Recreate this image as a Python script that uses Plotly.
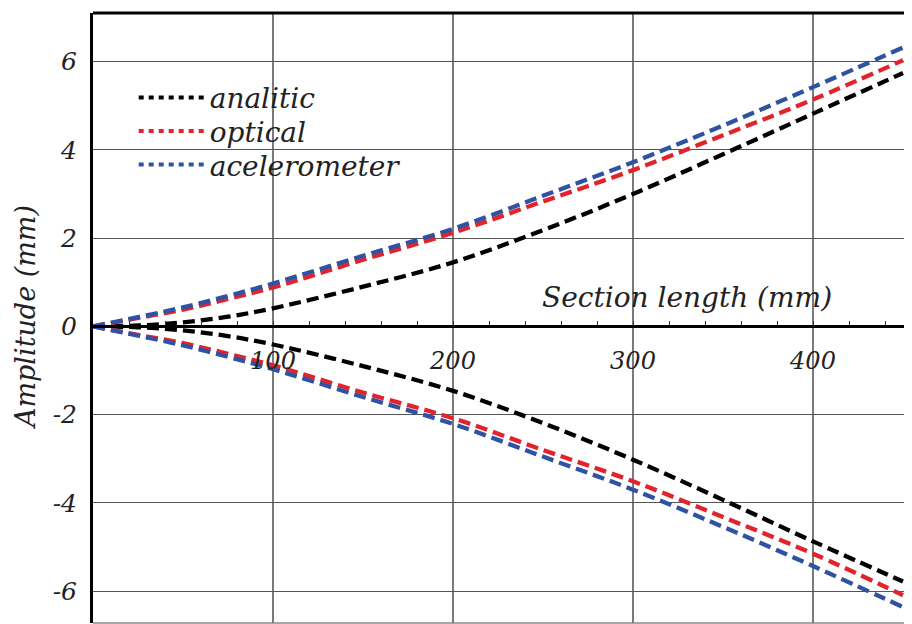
import plotly.graph_objects as go

# ---- data ----
section_mm = [0, 25, 50, 75, 100, 150, 200, 250, 300, 350, 400, 450]

analitic_upper = [0, 0.02, 0.09, 0.22, 0.41, 0.90, 1.45, 2.18, 3.00, 3.90, 4.82, 5.74]
optical_upper = [0, 0.19, 0.38, 0.62, 0.88, 1.51, 2.12, 2.83, 3.54, 4.33, 5.14, 6.03]
accel_upper = [0, 0.21, 0.43, 0.69, 0.97, 1.60, 2.21, 2.96, 3.72, 4.55, 5.42, 6.32]

analitic_lower = [0, -0.02, -0.09, -0.22, -0.41, -0.90, -1.46, -2.19, -3.02, -3.93, -4.87, -5.78]
optical_lower = [0, -0.19, -0.38, -0.62, -0.88, -1.50, -2.08, -2.80, -3.51, -4.32, -5.15, -6.09]
accel_lower = [0, -0.21, -0.43, -0.69, -0.97, -1.60, -2.21, -2.95, -3.70, -4.54, -5.43, -6.36]

series_names = ["analitic", "optical", "acelerometer"]
series_colors = ["#000000", "#e3232b", "#2f52a3"]

x_tick_vals = [100, 200, 300, 400]
x_tick_text = ["100", "200", "300", "400"]
y_tick_vals = [-6, -4, -2, 0, 2, 4, 6]
y_tick_text = ["-6", "-4", "-2", "0", "2", "4", "6"]

X_RANGE = [0, 455]
Y_RANGE = [-6.72, 7.10]

FONT = "DejaVu Serif"
TXT = "#222222"

fig = go.Figure()

uppers = [analitic_upper, optical_upper, accel_upper]
lowers = [analitic_lower, optical_lower, accel_lower]
legend_ids = ["legend", "legend2", "legend3"]
legend_y = [0.861, 0.806, 0.751]

for name, color, up, lo, lid in zip(series_names, series_colors, uppers, lowers, legend_ids):
    for ys in (up, lo):
        fig.add_trace(go.Scatter(
            x=section_mm, y=ys, mode="lines", name=name,
            line=dict(color=color, width=4.3, dash="12px,6px", shape="spline"),
            showlegend=False, hoverinfo="skip",
        ))
    # legend entry (dotted sample as in the reference)
    fig.add_trace(go.Scatter(
        x=[None], y=[None], mode="lines", name=name,
        line=dict(color=color, width=4, dash="5px,5px"),
        showlegend=True, legend=lid,
    ))

zero_pos = (0 - Y_RANGE[0]) / (Y_RANGE[1] - Y_RANGE[0])

legend_common = dict(
    x=0.0497, xanchor="left", yanchor="middle",
    bgcolor="rgba(0,0,0,0)", borderwidth=0,
    font=dict(family=FONT, size=28, color=TXT, style="italic"),
    itemwidth=66,
)

fig.update_layout(
    width=904, height=616,
    margin=dict(l=85, r=0, t=5, b=1),
    paper_bgcolor="white", plot_bgcolor="white",
    font=dict(family=FONT, color=TXT, style="italic"),
    showlegend=True,
    legend=dict(y=legend_y[0], **legend_common),
    legend2=dict(y=legend_y[1], **legend_common),
    legend3=dict(y=legend_y[2], **legend_common),
    xaxis=dict(
        range=X_RANGE, anchor="free", position=zero_pos,
        tickvals=x_tick_vals, ticktext=x_tick_text,
        ticks="inside", ticklen=4, tickwidth=1, tickcolor="#333",
        tickfont=dict(family=FONT, size=24, color=TXT, style="italic"),
        ticklabelstandoff=12,
        showgrid=True, gridcolor="#7a7a7a", gridwidth=1.5,
        zeroline=False, showline=True, linecolor="black", linewidth=3,
        minor=dict(dtick=20, tick0=0, ticks="inside", ticklen=4,
                   tickcolor="#333", tickwidth=1, showgrid=False),
    ),
    yaxis=dict(
        range=Y_RANGE,
        tickvals=y_tick_vals, ticktext=y_tick_text,
        ticks="", tickfont=dict(family=FONT, size=25, color=TXT, style="italic"),
        ticklabelstandoff=8,
        showgrid=True, gridcolor="#555555", gridwidth=1.2,
        zeroline=True, zerolinecolor="black", zerolinewidth=3,
        showline=True, linecolor="black", linewidth=3,
    ),
    shapes=[
        dict(type="line", xref="paper", yref="paper", x0=0, x1=1, y0=1, y1=1,
             line=dict(color="black", width=3)),
        dict(type="line", xref="paper", yref="paper", x0=0, x1=1, y0=0, y1=0,
             line=dict(color="#888888", width=1.5)),
    ],
    annotations=[
        dict(text="Section length (mm)", xref="x", yref="y", x=330, y=0.65,
             xanchor="center", yanchor="middle", showarrow=False,
             font=dict(family=FONT, size=28, color=TXT, style="italic")),
        dict(text="Amplitude (mm)", xref="paper", yref="paper", x=-0.083, y=0.5,
             xanchor="center", yanchor="middle", textangle=-90, showarrow=False,
             font=dict(family=FONT, size=27, color=TXT, style="italic")),
    ],
)

fig.write_html("out.html")
